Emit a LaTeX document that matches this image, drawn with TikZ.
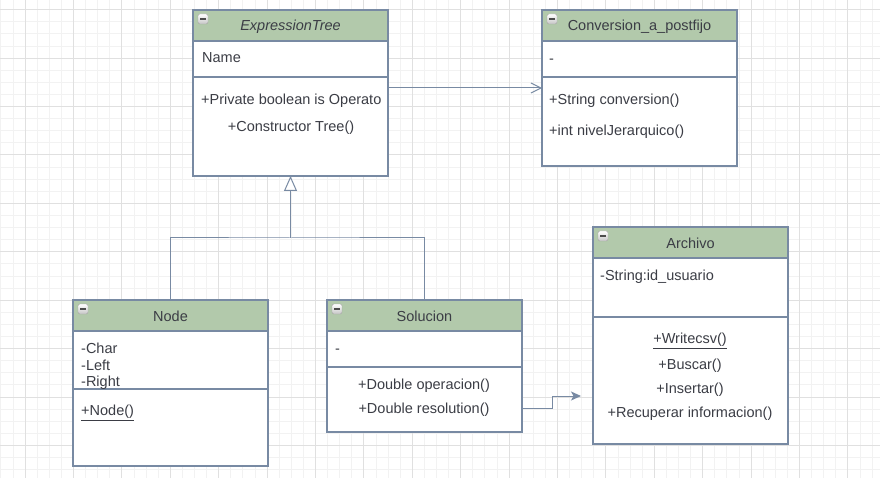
\documentclass[tikz,border=0pt]{standalone}
\usepackage{fontspec}
\setmainfont{Liberation Sans}
\usetikzlibrary{positioning}
\usetikzlibrary{arrows.meta}
\definecolor{sage}{HTML}{B2C9AB}
\definecolor{slate}{HTML}{788AA3}
\definecolor{ink}{HTML}{3B3D45}
\definecolor{gridmin}{HTML}{F2F2F2}
\definecolor{gridmaj}{HTML}{E0E0E0}
\tikzset{
    classhead/.style = {rectangle, line width=1.2pt, draw=slate, fill=sage, minimum width=195pt, minimum height=31pt, inner sep=0pt, outer sep=0pt, anchor=north west, font=\fontsize{14.5}{17}\selectfont, text=ink, text height=13pt, text depth=2pt},
    classpart/.style = {rectangle, line width=1.2pt, draw=slate, fill=white, minimum width=195pt, inner sep=0pt, outer sep=0pt},
    minusbox/.style = {rectangle, rounded corners=1.5pt, draw=gray!70, top color=white, bottom color=gray!45, minimum size=10pt, inner sep=0pt,
        path picture={\draw[black!70, line width=1.5pt] ([xshift=2.3pt]path picture bounding box.west) -- ([xshift=-2.3pt]path picture bounding box.east);}},
    textl/.style = {anchor=west, inner sep=0pt, text height=13pt, text depth=2pt, font=\fontsize{14.5}{17}\selectfont, text=ink},
    textc/.style = {anchor=center, inner sep=0pt, text height=13pt, text depth=2pt, font=\fontsize{14.5}{17}\selectfont, text=ink},
    gridline/.style = {gridmin, line width=0.8pt},
    gridmajor/.style = {gridmaj, line width=0.8pt},
    edgea/.style = {-{Straight Barb[length=10pt,width=10pt]}, slate, line width=1pt}, % association
    edgeg/.style = {-{Triangle[open,length=15pt,width=13pt,fill=white]}, slate, line width=1pt}, % generalization
    edged/.style = {-{Stealth[length=10pt,width=9pt,inset=2.5pt]}, slate, line width=1pt} % dependency
}

\begin{document}
\begin{tikzpicture}[x=1pt,y=-1pt]
\useasboundingbox (0,0) rectangle (880,478);
\fill[white] (0,0) rectangle (880,478);
\foreach \k in {0,...,72} \draw[gridline] ({0.8+12.1*\k},0) -- ({0.8+12.1*\k},478);
\foreach \k in {0,...,39} \draw[gridline] (0,{-2.4+12.1*\k}) -- (880,{-2.4+12.1*\k});
\foreach \k in {2,6,...,70} \draw[gridmajor] ({0.8+12.1*\k},0) -- ({0.8+12.1*\k},478);
\foreach \k in {1,5,...,37} \draw[gridmajor] (0,{-2.4+12.1*\k}) -- (880,{-2.4+12.1*\k});

% ExpressionTree
\node[classhead] at (193,10) (tree) {\textit{ExpressionTree}};
\node[classpart, minimum height=36pt, below=0pt of tree] (treea) {};
\node[classpart, minimum height=99pt, below=0pt of treea] (treem) {};
\node[minusbox] at ([xshift=10pt,yshift=-9pt]tree.north west) (treex) {};
\node[textl] at (202,57) (tree1) {Name};
\node[textl] at (201,99) (tree2) {+Private boolean is Operato};
\node[textc] at (291,126) (tree3) {+Constructor Tree()};

% Conversion_a_postfijo
\node[classhead] at (542,10) (conv) {Conversion\_a\_postfijo};
\node[classpart, minimum height=36pt, below=0pt of conv] (conva) {};
\node[classpart, minimum height=89pt, below=0pt of conva] (convm) {};
\node[minusbox] at ([xshift=10pt,yshift=-9pt]conv.north west) (convx) {};
\node[textl] at (549,58) (conv1) {-};
\node[textl] at (549,99) (conv2) {+String conversion()};
\node[textl] at (549,130) (conv3) {+int nivelJerarquico()};

% Node
\node[classhead] at (73,300) (node) {Node};
\node[classpart, minimum height=58pt, below=0pt of node] (nodea) {};
\node[classpart, minimum height=77pt, below=0pt of nodea] (nodem) {};
\node[minusbox] at ([xshift=10pt,yshift=-9pt]node.north west) (nodex) {};
\node[textl] at (81,348) (node1) {-Char};
\node[textl] at (81,365) (node2) {-Left};
\node[textl] at (81,381) (node3) {-Right};
\node[textl] at (81,410) (node4) {\underline{+Node()}};

% Solucion
\node[classhead] at (327,300) (sol) {Solucion};
\node[classpart, minimum height=36pt, below=0pt of sol] (sola) {};
\node[classpart, minimum height=65pt, below=0pt of sola] (solm) {};
\node[minusbox] at ([xshift=10pt,yshift=-9pt]sol.north west) (solx) {};
\node[textl] at (335,348) (sol1) {-};
\node[textc] at (424,384) (sol2) {+Double operacion()};
\node[textc] at (424,408) (sol3) {+Double resolution()};

% Archivo
\node[classhead] at (593,227) (arch) {Archivo};
\node[classpart, minimum height=59pt, below=0pt of arch] (archa) {};
\node[classpart, minimum height=127pt, below=0pt of archa] (archm) {};
\node[minusbox] at ([xshift=10pt,yshift=-9pt]arch.north west) (archx) {};
\node[textl] at (600,275) (arch1) {-String:id\_usuario};
\node[textc] at (690,338) (arch2) {\underline{+Writecsv()}};
\node[textc] at (690,364) (arch3) {+Buscar()};
\node[textc] at (690,388) (arch4) {+Insertar()};
\node[textc] at (690,412) (arch5) {+Recuperar informacion()};

\coordinate (join) at (treem.south |- 0,238);
\coordinate (tip) at (581,396);

\draw[edgea] ([yshift=-11pt]treem.north east) -- ([yshift=-11pt]convm.north west);
\draw[slate, line width=1pt] (node.north) |- (join) -| (sol.north);
\draw[edgeg] (join) -- (treem.south);
\draw[edged] (solm.east |- sol3) -- ++(30,0) |- (tip);

\end{tikzpicture}
\end{document}
